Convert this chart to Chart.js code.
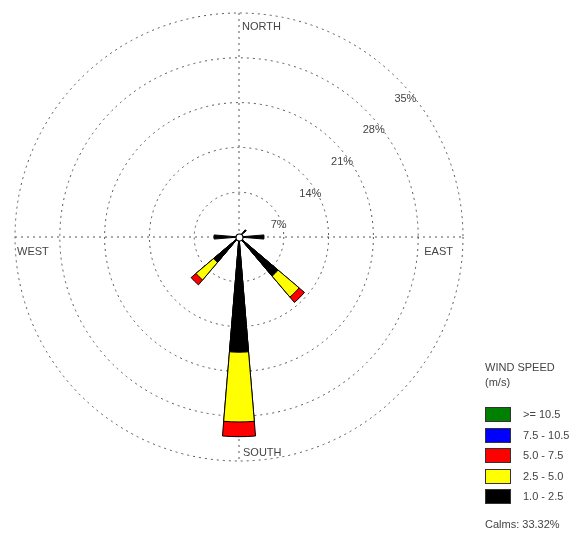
<!DOCTYPE html>
<html>
<head>
<meta charset="utf-8">
<title>Wind Rose</title>
<script src="https://cdn.jsdelivr.net/npm/chart.js"></script>
<style>
    html, body { margin: 0; padding: 0; background: #fff; }
    canvas { display: block; }
</style>
</head>
<body>
<canvas id="rose" width="582" height="537"></canvas>
<script>
// wind directions, clockwise from north
const directions = ['N', 'NNE', 'NE', 'ENE', 'E', 'ESE', 'SE', 'SSE', 'S', 'SSW', 'SW', 'WSW', 'W', 'WNW', 'NW', 'NNW'];

// frequency (%) per direction for each speed class (m/s)
const speed1to2_5    = [0, 0, 1.5, 0, 3.9, 0, 8.0, 0, 18.0, 0, 5.2, 0, 3.9, 0, 0, 0];
const speed2_5to5    = [0, 0, 0, 0, 0, 0, 4.3, 0, 10.9, 0, 3.6, 0, 0, 0, 0, 0];
const speed5to7_5    = [0, 0, 0, 0, 0, 0, 1.1, 0, 2.3, 0, 1.0, 0, 0, 0, 0, 0];
const speed7_5to10_5 = [0, 0, 0, 0, 0, 0, 0, 0, 0, 0, 0, 0, 0, 0, 0, 0];
const speedAbove10_5 = [0, 0, 0, 0, 0, 0, 0, 0, 0, 0, 0, 0, 0, 0, 0, 0];

const speedClasses = ['1.0 - 2.5', '2.5 - 5.0', '5.0 - 7.5', '7.5 - 10.5', '>= 10.5'];
const speedColors  = ['#000000', '#ffff00', '#ff0000', '#0000ff', '#008000'];
const ringTicks    = [7, 14, 21, 28, 35];
const calms = 33.32;

const classSeries = [speed1to2_5, speed2_5to5, speed5to7_5, speed7_5to10_5, speedAbove10_5];

// each direction gets a narrow wedge followed by an empty gap slice
const WEDGE = 9.5;
const GAP = 360 / directions.length - WEDGE;
const FONT = '11px "Liberation Sans", Arial, sans-serif';

const labels = [];
directions.forEach(d => labels.push(d, ''));

// polar area arcs don't stack, so every class is drawn at its cumulative
// radius; dataset 0 is painted last, which puts the slow winds innermost
const datasets = classSeries.map((series, k) => {
    const data = [];
    directions.forEach((d, i) => {
        let total = 0;
        for (let j = 0; j <= k; j++) total += classSeries[j][i];
        data.push(total, 0);
    });
    const shown = ctx => ctx.dataIndex % 2 === 0 && series[ctx.dataIndex / 2] > 0;
    return {
        label: speedClasses[k],
        data: data,
        backgroundColor: ctx => shown(ctx) ? speedColors[k] : 'rgba(0,0,0,0)',
        borderColor: '#000',
        borderWidth: ctx => shown(ctx) ? 1 : 0,
        angle: ctx => ctx.dataIndex % 2 === 0 ? WEDGE : GAP
    };
});

const roseFrame = {
    id: 'roseFrame',
    beforeDatasetsDraw(chart) {
        const r = chart.scales.r;
        const ctx = chart.ctx;
        const cx = r.xCenter, cy = r.yCenter, R = r.drawingArea;
        ctx.save();

        // compass cross
        ctx.strokeStyle = '#555';
        ctx.lineWidth = 1;
        ctx.setLineDash([2, 4]);
        ctx.beginPath();
        ctx.moveTo(cx, cy - R);
        ctx.lineTo(cx, cy + R);
        ctx.moveTo(cx - R, cy);
        ctx.lineTo(cx + R, cy);
        ctx.stroke();
        ctx.setLineDash([]);

        ctx.font = FONT;
        ctx.fillStyle = '#444';
        ctx.textBaseline = 'middle';
        ctx.textAlign = 'left';
        ctx.fillText('NORTH', cx + 3, cy - R + 14);
        ctx.fillText('SOUTH', cx + 4, cy + R - 8);
        ctx.fillText('WEST', cx - R + 2, cy + 15);
        ctx.textAlign = 'right';
        ctx.fillText('EAST', cx + R - 10, cy + 15);

        // ring percentages, hung below the 45 degree point of each circle
        ctx.textAlign = 'center';
        ringTicks.forEach(v => {
            const d = r.getDistanceFromCenterForValue(v);
            const px = cx + d * Math.SQRT1_2;
            const py = cy - d * Math.SQRT1_2;
            ctx.fillText(v + '%', px + 8, py + 20);
        });
        ctx.restore();
    },
    afterDatasetsDraw(chart) {
        const r = chart.scales.r;
        const ctx = chart.ctx;
        ctx.save();
        ctx.beginPath();
        ctx.arc(r.xCenter + 0.5, r.yCenter + 0.5, 3.5, 0, Math.PI * 2);
        ctx.fillStyle = '#fff';
        ctx.fill();
        ctx.strokeStyle = '#000';
        ctx.lineWidth = 1.2;
        ctx.stroke();
        ctx.restore();
    },
    afterDraw(chart) {
        const ctx = chart.ctx;
        ctx.save();
        ctx.font = FONT;
        ctx.textBaseline = 'middle';
        ctx.textAlign = 'left';
        ctx.fillStyle = '#444';
        ctx.fillText('WIND SPEED', 485, 368);
        ctx.fillText('(m/s)', 485, 383);

        // strongest class on top
        ctx.strokeStyle = '#333';
        ctx.lineWidth = 1;
        for (let k = speedClasses.length - 1, row = 0; k >= 0; k--, row++) {
            const y = Math.round(407 + row * 20.6);
            ctx.fillStyle = speedColors[k];
            ctx.fillRect(485, y, 26, 15);
            ctx.strokeRect(485.5, y + 0.5, 25, 14);
            ctx.fillStyle = '#444';
            ctx.fillText(speedClasses[k], 523, y + 8);
        }
        ctx.fillText('Calms: ' + calms.toFixed(2) + '%', 485, 525);
        ctx.restore();
    }
};

new Chart(document.getElementById('rose'), {
    type: 'polarArea',
    data: { labels: labels, datasets: datasets },
    options: {
        responsive: false,
        animation: false,
        layout: { padding: { left: 15, right: 119, top: 13, bottom: 76 } },
        plugins: {
            legend: { display: false },
            tooltip: { enabled: false }
        },
        scales: {
            r: {
                min: 0,
                max: 35,
                startAngle: -WEDGE / 2,
                ticks: { display: false, stepSize: 7 },
                grid: { circular: true, color: '#555', lineWidth: 1 },
                border: { dash: [2, 4] },
                angleLines: { display: false },
                pointLabels: { display: false }
            }
        }
    },
    plugins: [roseFrame]
});
</script>
</body>
</html>
